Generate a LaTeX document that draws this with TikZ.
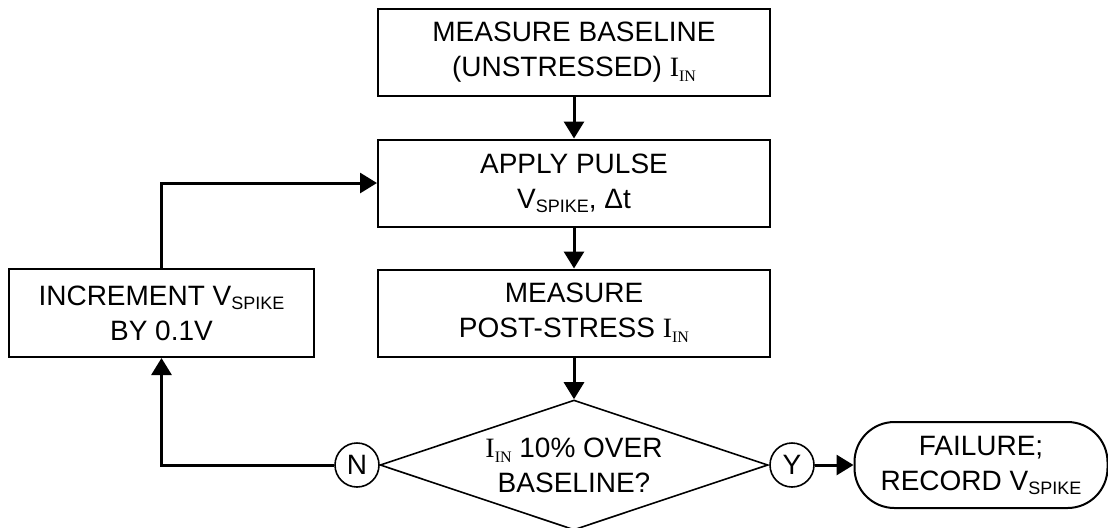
\documentclass[tikz,border=0pt]{standalone}
\usepackage{fontspec}
\setmainfont{Liberation Sans}
\newfontfamily\serifI{Liberation Serif}
\usetikzlibrary{shapes.geometric,arrows.meta}

\newcommand{\Vspike}{V\raisebox{-2pt}{\fontsize{9}{9}\selectfont SPIKE}}
\newcommand{\Iin}{{\serifI I\raisebox{-2.5pt}{\fontsize{8}{8}\selectfont IN}}}

\tikzset{
  stepbox/.style={draw, line width=1pt, minimum width=196pt, minimum height=43.5pt,
    align=center, inner sep=0pt},
  flow/.style={line width=1.5pt, -{Triangle[length=8.5pt,width=10pt]}},
  answer/.style={draw, circle, line width=0.8pt, minimum size=22pt, inner sep=0pt},
}

\begin{document}
\begin{tikzpicture}[x=0.5pt, y=-0.5pt,
  every node/.style={font=\fontsize{14}{17.5}\selectfont}]
  \useasboundingbox (0,0) rectangle (1108,527);

  % main column
  \node[stepbox] (baseline) at (574,52.5) {MEASURE BASELINE\\(UNSTRESSED) \Iin};
  \node[stepbox] (pulse) at (574,183) {APPLY PULSE\\\Vspike, Δt};
  \node[stepbox] (post) at (574,313) {MEASURE\\POST-STRESS \Iin};

  % decision
  \node[draw, diamond, line width=0.8pt, aspect=3, inner sep=0pt,
    minimum width=194pt, minimum height=65pt, align=center]
    (check) at (574,465) {\Iin{} 10\% OVER\\BASELINE?};
  \node[answer] (no) at (357,465) {N};
  \node[answer] (yes) at (792,465) {Y};

  % side boxes
  \node[stepbox, minimum width=152.5pt, minimum height=44pt] (incr) at (161.5,313)
    {INCREMENT \Vspike\\BY 0.1V};
  \node[draw, line width=1pt, rounded corners=20pt, minimum width=126.5pt,
    minimum height=43pt, align=center, inner sep=0pt] (fail) at (981,465)
    {FAILURE;\\RECORD \Vspike};

  % connectors
  \draw[flow] (baseline) -- (pulse);
  \draw[flow] (pulse) -- (post);
  \draw[flow] (post) -- (check);
  \draw[flow] (yes) -- (fail);
  \draw[flow] (no) -| (incr);
  \draw[flow] (incr) |- (pulse);
\end{tikzpicture}
\end{document}
